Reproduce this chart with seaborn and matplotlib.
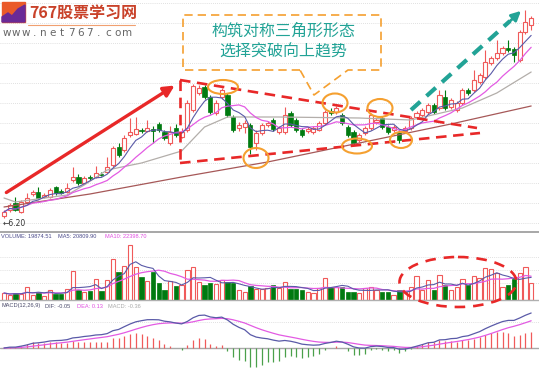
import numpy as np
import pandas as pd
import matplotlib
matplotlib.use("Agg")
import matplotlib.pyplot as plt
from matplotlib.patches import Ellipse, Polygon, Rectangle, FancyArrowPatch
import seaborn as sns

# daily candles (price)
opens = [6.28, 6.52, 6.80, 6.44, 6.84, 7.16, 7.24, 7.04, 7.04, 7.44,
         7.28, 7.24, 7.72, 7.84, 7.60, 7.84, 7.84, 7.96, 8.04, 8.32,
         9.04, 8.92, 9.52, 9.56, 9.72, 9.68, 9.76, 9.96, 9.64, 9.20,
         9.80, 9.44, 9.72, 10.52, 11.20, 11.44, 11.04, 10.40, 11.04, 11.12,
         10.24, 9.80, 9.84, 9.92, 9.20, 9.60, 9.92, 10.12, 9.64, 9.64,
         10.40, 10.12, 9.72, 9.68, 9.64, 9.72, 10.00, 10.48, 10.44, 10.32,
         9.84, 9.64, 9.32, 9.60, 9.80, 10.04, 10.20, 9.84, 9.72, 9.64,
         9.68, 9.80, 10.24, 10.32, 10.44, 10.72, 10.60, 11.04, 10.64, 10.52,
         10.80, 11.32, 11.32, 11.64, 11.84, 12.40, 12.60, 12.80, 13.00, 12.96,
         12.52, 13.64, 13.92]
closes = [6.44, 6.72, 6.52, 6.84, 7.00, 7.24, 7.00, 7.12, 7.32, 7.20,
          7.20, 7.40, 7.84, 7.60, 7.80, 7.80, 8.00, 7.92, 8.24, 9.00,
          8.72, 9.40, 9.64, 9.76, 9.68, 9.80, 9.68, 9.72, 9.40, 9.64,
          9.52, 9.64, 10.80, 11.48, 11.40, 11.04, 10.44, 10.80, 11.32, 10.32,
          9.72, 9.92, 10.00, 9.04, 9.60, 9.92, 10.00, 9.76, 9.80, 10.32,
          9.92, 9.72, 9.52, 9.76, 9.80, 10.00, 10.44, 10.40, 10.60, 10.00,
          9.52, 9.20, 9.52, 9.80, 10.32, 10.12, 9.84, 9.64, 9.84, 9.32,
          9.80, 10.20, 10.40, 10.52, 10.72, 10.44, 11.12, 10.60, 10.92, 10.80,
          11.32, 11.20, 11.72, 11.92, 12.44, 12.60, 12.80, 13.00, 12.92, 12.72,
          13.64, 14.04, 14.20]
highs = [6.52, 6.80, 7.04, 6.92, 7.20, 7.32, 7.44, 7.20, 7.40, 7.48,
         7.36, 7.60, 8.24, 7.96, 7.88, 7.92, 8.28, 8.04, 8.64, 9.08,
         9.20, 9.52, 10.20, 10.24, 9.80, 10.12, 9.88, 10.04, 9.72, 9.88,
         9.96, 9.80, 10.92, 11.56, 11.52, 11.52, 11.12, 10.92, 11.40, 11.20,
         10.32, 10.04, 10.12, 10.00, 9.72, 10.00, 10.08, 10.20, 9.88, 10.64,
         10.48, 10.20, 9.80, 9.84, 9.88, 10.08, 10.52, 10.60, 10.68, 10.40,
         9.92, 9.72, 9.60, 9.88, 10.40, 10.20, 10.28, 9.92, 9.92, 9.72,
         9.88, 10.28, 10.48, 10.60, 10.80, 10.80, 11.32, 11.32, 11.00, 10.88,
         11.40, 11.40, 12.12, 12.00, 12.92, 12.68, 13.32, 13.08, 13.32, 13.04,
         13.72, 14.52, 14.28]
lows = [6.20, 6.44, 6.48, 6.40, 6.80, 7.08, 6.96, 7.00, 7.00, 7.12,
        7.16, 7.20, 7.64, 7.52, 7.56, 7.72, 7.80, 7.88, 8.00, 8.24,
        8.64, 8.84, 9.44, 9.52, 9.60, 9.64, 9.20, 9.64, 9.32, 9.12,
        9.44, 9.40, 9.64, 10.44, 11.12, 10.96, 10.36, 10.32, 10.96, 10.24,
        9.64, 9.68, 9.60, 8.76, 8.92, 9.52, 9.84, 9.68, 9.56, 9.56,
        9.84, 9.64, 9.44, 9.60, 9.56, 9.68, 9.92, 10.32, 10.36, 9.92,
        9.44, 9.12, 9.24, 9.52, 9.72, 9.96, 9.76, 9.56, 9.64, 9.20,
        9.60, 9.72, 10.16, 10.24, 10.36, 10.36, 10.52, 10.52, 10.56, 10.44,
        10.72, 11.12, 11.24, 11.56, 11.76, 12.32, 12.52, 12.72, 12.84, 12.44,
        12.44, 13.56, 13.72]
volumes = [7700, 5500, 7700, 6600, 14300, 5500, 8800, 4400, 11000, 6600,
           6600, 12100, 31900, 11000, 8800, 9900, 23100, 9900, 22000, 45100,
           30800, 37400, 60500, 36300, 25300, 20900, 30800, 18700, 11000, 20900,
           15400, 16500, 33000, 36300, 19800, 16500, 18700, 17600, 22000, 19800,
           18700, 11000, 8800, 15400, 12100, 12100, 13200, 16500, 13200, 19800,
           12100, 12100, 11000, 8800, 7700, 13200, 24200, 14300, 14300, 14300,
           8800, 8800, 7700, 13200, 14300, 11000, 8800, 8800, 5500, 11000,
           8800, 14300, 26400, 11000, 22000, 11000, 27500, 16500, 11000, 14300,
           23100, 16500, 26400, 24200, 35200, 34100, 29700, 14300, 16500, 23100,
           29700, 36300, 18700]

# long moving averages, read at a few candles
ma30_idx = [0, 2, 11, 14, 18, 24, 31, 35, 39, 48, 62, 71, 80, 86, 92]
ma30_val = [7.00, 6.84, 7.12, 7.52, 8.12, 8.40, 8.88, 9.84, 10.24, 10.24,
            10.20, 10.12, 10.60, 11.20, 12.04]
ma60_idx = [0, 15, 31, 46, 62, 78, 92]
ma60_val = [6.64, 7.16, 7.84, 8.44, 9.20, 9.96, 10.68]

logo_text = "767股票学习网"
site_text = "www.net767.com"
callout_lines = ["构筑对称三角形形态", "选择突破向上趋势"]
vol_legend = ["VOLUME: 19874.51", "MA5: 20809.90", "MA10: 22398.70"]
macd_legend = ["MACD(12,26,9)", "DIF: -0.05", "DEA: 0.13", "MACD: -0.36"]

RED = "#f05a5a"
GREEN = "#007a10"
MA5_C = "#5a5aa8"
MA10_C = "#e35be3"
MA30_C = "#b3aeaa"
MA60_C = "#a65858"
ORANGE = "#f5a030"
ARROW_RED = "#e82828"
TEAL = "#22a396"

sns.set_theme(style="white")
plt.rcParams["font.family"] = ["Noto Sans CJK SC", "DejaVu Sans"]

W, H = 539, 372
fig = plt.figure(figsize=(W / 100, H / 100), dpi=100)
fig.patch.set_facecolor("white")


def px_axes(top, bottom):
    return fig.add_axes([0, 1 - bottom / H, 1, (bottom - top) / H])


o, c = np.array(opens), np.array(closes)
hi, lo = np.array(highs), np.array(lows)
vol = np.array(volumes)
n = len(c)
idx = np.arange(n)
up = c >= o

step, x0 = 5.73, 4.0
xlim = (-x0 / step, (W - x0) / step)


def clean(ax):
    ax.set_xlim(*xlim)
    ax.set_xticks([])
    ax.set_yticks([])
    ax.set_xlabel("")
    ax.set_ylabel("")
    for sp in ax.spines.values():
        sp.set_visible(False)
    ax.set_facecolor("none")


# price pane
ax_p = px_axes(0, 232)
ax_p.set_ylim(14.92 - 0.04 * 232, 14.92)
for lv in np.arange(6.0, 15.0, 0.8):
    ax_p.axhline(lv, color="#d6d6d6", lw=0.6, ls=(0, (1, 1.5)), zorder=0)

wick_cols = np.where(up, RED, GREEN)
ax_p.vlines(idx, lo, hi, colors=wick_cols, lw=0.8, zorder=2)
body_bot = np.minimum(o, c)
body_h = np.maximum(np.abs(c - o), 0.03)
ax_p.bar(idx[up], body_h[up], bottom=body_bot[up], width=0.72,
         facecolor="white", edgecolor=RED, lw=0.8, zorder=3)
ax_p.bar(idx[~up], body_h[~up], bottom=body_bot[~up], width=0.72,
         color=GREEN, edgecolor=GREEN, lw=0.5, zorder=3)

close_s = pd.Series(c)
ma5 = close_s.rolling(5, min_periods=1).mean()
ma10 = close_s.rolling(10, min_periods=1).mean()
sns.lineplot(x=ma60_idx, y=ma60_val, ax=ax_p, color=MA60_C, lw=0.9, zorder=4)
sns.lineplot(x=ma30_idx, y=ma30_val, ax=ax_p, color=MA30_C, lw=0.9, zorder=4)
sns.lineplot(x=idx, y=ma10, ax=ax_p, color=MA10_C, lw=0.9, zorder=4)
sns.lineplot(x=idx, y=ma5, ax=ax_p, color=MA5_C, lw=0.8, zorder=4)
clean(ax_p)

# volume pane
ax_v = px_axes(232, 300)
ax_v.set_ylim(0, 68 * 1100)
for lv in [18700, 33000, 47300]:
    ax_v.axhline(lv, color="#d6d6d6", lw=0.6, ls=(0, (1, 1.5)), zorder=0)
ax_v.bar(idx[up], vol[up], width=0.75, facecolor="white", edgecolor=RED, lw=0.8, zorder=2)
ax_v.bar(idx[~up], vol[~up], width=0.75, color=GREEN, edgecolor=GREEN, lw=0.5, zorder=2)
vol_s = pd.Series(vol.astype(float))
sns.lineplot(x=idx, y=vol_s.rolling(10, min_periods=1).mean(), ax=ax_v, color=MA10_C, lw=0.9, zorder=3)
sns.lineplot(x=idx, y=vol_s.rolling(5, min_periods=1).mean(), ax=ax_v, color=MA5_C, lw=0.8, zorder=3)
clean(ax_v)

# MACD pane
ax_m = px_axes(300, 372)
dif = close_s.ewm(span=12, adjust=False).mean() - close_s.ewm(span=26, adjust=False).mean()
dea = dif.ewm(span=9, adjust=False).mean()
hist = 2 * (dif - dea)
unit = dif.abs().max() / 35.0
ax_m.set_ylim(-24 * unit, 48 * unit)
ax_m.axhline(unit * 26, color="#d6d6d6", lw=0.6, ls=(0, (1, 1.5)), zorder=0)
ax_m.axhline(0, color="#a8a8a8", lw=1.0, zorder=1)
hcols = np.where(hist >= 0, RED, "#4aa04a")
ax_m.vlines(idx, 0, hist, colors=hcols, lw=0.9, zorder=2)
sns.lineplot(x=idx, y=dea, ax=ax_m, color=MA10_C, lw=0.9, zorder=3)
sns.lineplot(x=idx, y=dif, ax=ax_m, color=MA5_C, lw=0.9, zorder=3)
clean(ax_m)

# overlay in pixel coordinates for annotations
ax_o = fig.add_axes([0, 0, 1, 1])
ax_o.set_xlim(0, W)
ax_o.set_ylim(H, 0)
ax_o.axis("off")
ax_o.set_facecolor("none")

ax_o.plot([0, W], [232, 232], color="#a0a0a0", lw=1.3)
ax_o.plot([0, W], [300, 300], color="#b0b0b0", lw=1.0)

# logo
ax_o.add_patch(Rectangle((2, 2), 23, 20, color="#ea5a2a", zorder=5))
ax_o.add_patch(Polygon([(2, 22), (2, 17), (8, 13), (12, 16), (18, 9), (25, 5), (25, 22)],
                       closed=True, color="#6a2a96", zorder=6))
ax_o.text(29, 13, logo_text, fontsize=11.5, fontweight="bold", color="#c9422a",
          va="center", ha="left", zorder=6)
ax_o.plot([28, 135], [24.5, 24.5], color="#f0a070", lw=0.8)
for k, ch in enumerate(site_text):
    ax_o.text(7 + 9.2 * k, 33, ch, fontsize=7.5, color="#666666", ha="center", va="center",
              family=["DejaVu Sans"])

# callout box
box = [(300, 70), (183, 70), (183, 15), (381, 15), (381, 70), (348, 70), (314, 95), (300, 70)]
bx, by = zip(*box)
ax_o.plot(bx, by, color=ORANGE, lw=1.2, ls=(0, (5, 3)), zorder=5)
ax_o.text(284, 31, callout_lines[0], fontsize=11.5, color=TEAL, ha="center", va="center")
ax_o.text(283, 52, callout_lines[1], fontsize=11.5, color=TEAL, ha="center", va="center")

# triangle pattern
dash_red = dict(color=ARROW_RED, lw=1.9, ls=(0, (4, 2.5)), zorder=5)
ax_o.plot([180, 180], [80, 163], **dash_red)
ax_o.plot([180, 477], [80, 128], **dash_red)
ax_o.plot([180, 480], [163, 133], **dash_red)

for cx, cy, ew, eh in [(223, 87, 30, 14), (256, 158, 25, 20), (335, 103, 25, 19),
                       (380, 108, 25, 18), (357, 146, 30, 15), (401, 140, 22, 16)]:
    ax_o.add_patch(Ellipse((cx, cy), ew, eh, fill=False, edgecolor=ORANGE, lw=1.5, zorder=6))

ax_o.add_patch(Ellipse((458, 282), 117, 50, fill=False, edgecolor=ARROW_RED, lw=1.9,
                       ls=(0, (4, 3)), zorder=6))

# arrows
ax_o.add_patch(FancyArrowPatch((4, 194), (177, 84), arrowstyle="-|>", mutation_scale=16,
                               color=ARROW_RED, lw=2.4, zorder=6))
ax_o.plot([411, 510], [110, 21], color=TEAL, lw=3.0, ls=(0, (3, 2)), zorder=6)
ax_o.add_patch(FancyArrowPatch((508, 23), (523, 9), arrowstyle="-|>", mutation_scale=14,
                               color=TEAL, lw=2.0, zorder=6))

# low marker
ax_o.text(3, 223, f"←{min(lows):.2f}", fontsize=5.5, color="#333333", va="center",
          family=["DejaVu Sans"])

# pane legends, placed at the x positions seen on the chart
small = dict(fontsize=4.1, va="center", ha="left", family=["Liberation Sans", "DejaVu Sans"])
for s, xp, col in zip(vol_legend, [1, 58, 105], ["#4a4a8a", "#4a4a8a", "#e04ce0"]):
    ax_o.text(xp, 237, s, color=col, **small)
for s, xp, col in zip(macd_legend, [1, 45, 77, 108], ["#4a4a6a", "#4a4a6a", "#e04ce0", "#a8a8a8"]):
    ax_o.text(xp, 306, s, color=col, **small)

fig.savefig("out.png", dpi=100)
